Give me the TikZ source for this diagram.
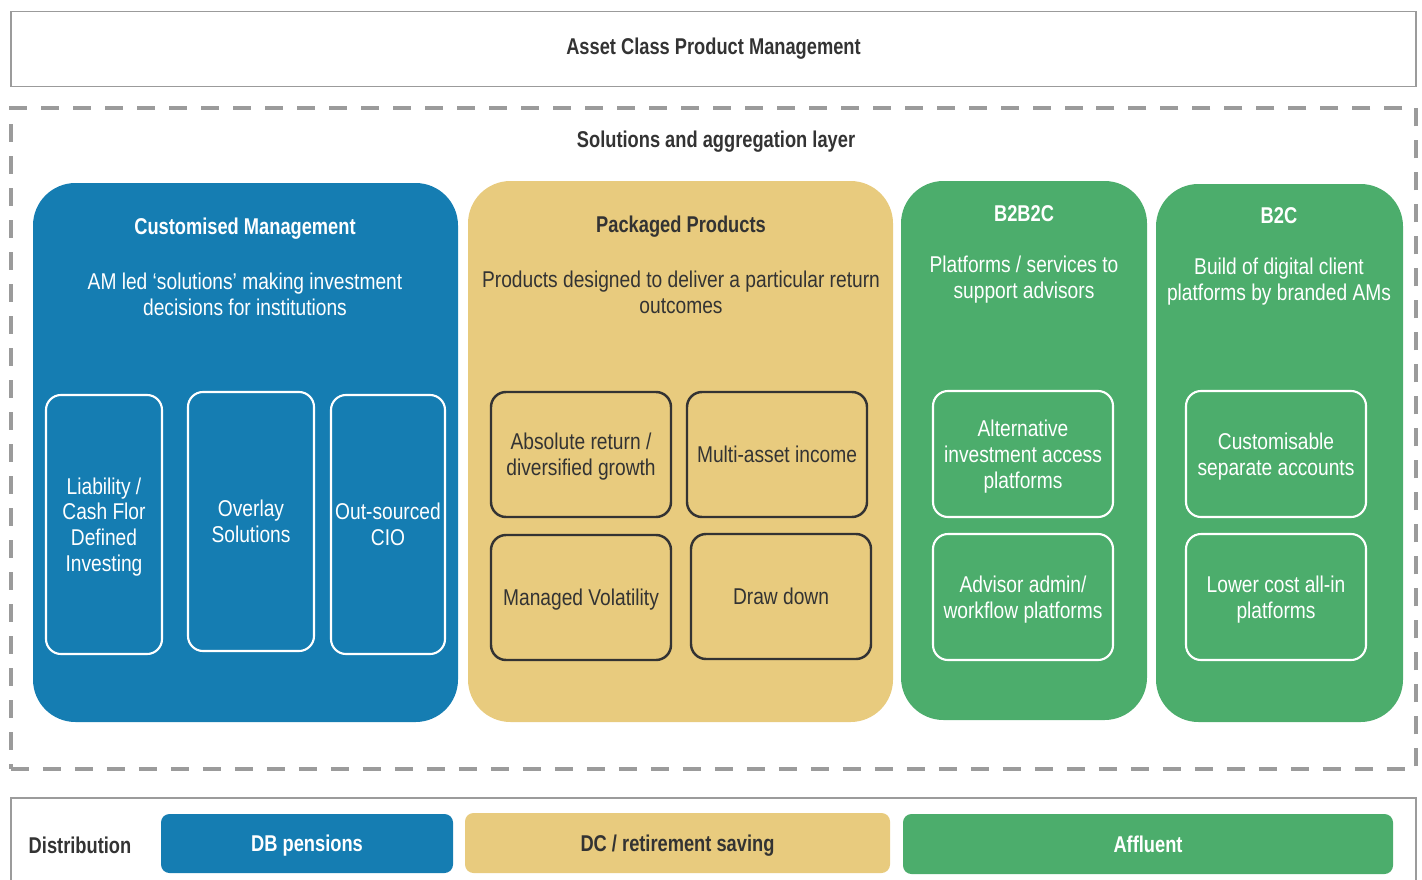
\documentclass[tikz,border=0pt]{standalone}
\usepackage{fontspec}
\setmainfont{Liberation Sans}[FakeStretch=0.84,BoldFeatures={FakeStretch=0.80}]
\usepackage{tikz}

\definecolor{dbblue}{HTML}{157DB2}
\definecolor{dcsand}{HTML}{E8CB7E}
\definecolor{affgreen}{HTML}{4CAD6C}
\definecolor{framegray}{HTML}{9B9B9B}
\definecolor{inkdark}{HTML}{333333}

\tikzset{
  sz/.style 2 args={minimum width=#1*0.02cm, minimum height=#2*0.02cm},
  txt/.style={font=\fontsize{13}{14.7}\selectfont, align=center},
  head/.style={font=\bfseries\fontsize{13}{14.7}\selectfont, align=center},
  panel/.style={rounded corners=0.85cm, inner sep=0pt, outer sep=0pt},
  inbox/.style={draw, line width=1.2pt, rounded corners=0.3cm, inner sep=1pt, text depth=0pt, txt},
  bar/.style={rounded corners=0.17cm, inner sep=0pt, text depth=0pt, head}
}

\begin{document}
\begin{tikzpicture}[x=0.02cm,y=-0.02cm,inkdark]
\useasboundingbox (0,0) rectangle (1422,879);

\node[draw=framegray,line width=1.1pt,sz={1405}{75},head] (acpm) at (713.5,49) {Asset Class Product Management};

\node[draw=framegray,line width=2.3pt,dash pattern=on 0.36cm off 0.28cm,sz={1405}{661}] (layer) at (713.5,438.5) {};
\node[head] (layertitle) at (716,142) {Solutions and aggregation layer};

% the four solution panels
\node[panel,fill=dbblue,sz={425}{539}] (cm) at (245.5,452.5) {};
\node[panel,fill=dcsand,sz={425}{541}] (pp) at (680.5,451.5) {};
\node[panel,fill=affgreen,sz={246}{539}] (btbtc) at (1024,450.5) {};
\node[panel,fill=affgreen,sz={247}{538}] (btc) at (1279.5,453) {};

\node[head,text=white] (cmtitle) at (245,229) {Customised Management};
\node[txt,text=white] (cmtext) at (245,294) {AM led ‘solutions’ making investment\\decisions for institutions};
\node[head] (pptitle) at (681,227) {Packaged Products};
\node[txt] (pptext) at (681,292) {Products designed to deliver a particular return\\outcomes};
\node[head,text=white] (btbtctitle) at (1024,214) {B2B2C};
\node[txt,text=white] (btbtctext) at (1024,280) {Platforms / services to\\support advisors};
\node[head,text=white] (btctitle) at (1279,216) {B2C};
\node[txt,text=white] (btctext) at (1279,282) {Build of digital client\\platforms by branded AMs};

% offerings inside each panel
\node[inbox,draw=white,text=white,sz={116}{259}] (ldi) at (104,524.5) {Liability /\\Cash Flor\\Defined\\Investing};
\node[inbox,draw=white,text=white,sz={126}{259}] (overlay) at (251,521.5) {Overlay\\Solutions};
\node[inbox,draw=white,text=white,sz={114}{259}] (ocio) at (388,524.5) {Out-sourced\\CIO};

\node[inbox,draw=inkdark,line width=1.4pt,sz={180}{125}] (absret) at (581,454.5) {Absolute return /\\diversified growth};
\node[inbox,draw=inkdark,line width=1.4pt,sz={180}{125}] (multi) at (777,454.5) {Multi-asset income};
\node[inbox,draw=inkdark,line width=1.4pt,sz={180}{125}] (mvol) at (581,597.5) {Managed Volatility};
\node[inbox,draw=inkdark,line width=1.4pt,sz={180}{125}] (drawdown) at (781,596.5) {Draw down};

\node[inbox,draw=white,text=white,sz={180}{126}] (altinv) at (1023,454) {Alternative\\investment access\\platforms};
\node[inbox,draw=white,text=white,sz={180}{126}] (advadmin) at (1023,597) {Advisor admin/\\workflow platforms};
\node[inbox,draw=white,text=white,sz={180}{126}] (custsep) at (1276,454) {Customisable\\separate accounts};
\node[inbox,draw=white,text=white,sz={180}{126}] (lowcost) at (1276,597) {Lower cost all-in\\platforms};

% distribution strip
\node[draw=framegray,line width=1.1pt,sz={1405}{102}] (dist) at (713.5,849) {};
\node[head] (disttitle) at (80,845) {Distribution};
\node[bar,fill=dbblue,text=white,sz={292}{59}] (db) at (307,843.5) {DB pensions};
\node[bar,fill=dcsand,sz={425}{60}] (dc) at (677.5,843) {DC / retirement saving};
\node[bar,fill=affgreen,text=white,sz={490}{60}] (affluent) at (1148,844) {Affluent};

\end{tikzpicture}
\end{document}
